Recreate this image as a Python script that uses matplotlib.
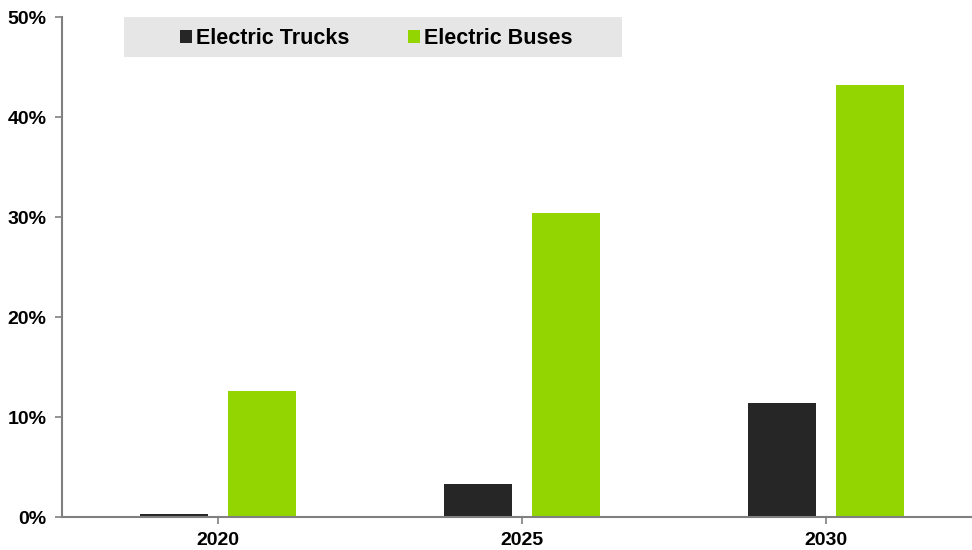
import matplotlib.pyplot as plt
from matplotlib.patches import Rectangle
import numpy as np

years = ['2020', '2025', '2030']
trucks = [0.3, 3.3, 11.4]
buses = [12.6, 30.4, 43.2]
yticks = [0, 10, 20, 30, 40, 50]

plt.rcParams['font.family'] = ['Liberation Sans', 'DejaVu Sans']
plt.rcParams['font.weight'] = 'bold'

fig = plt.figure(figsize=(9.72, 5.5), dpi=100)
ax = fig.add_axes([62/972, 33/550, 910/972, 500/550])

x = np.arange(len(years))
w = 0.224
off = 0.144
ax.bar(x - off, trucks, w, color='#262626', label='Electric Trucks')
ax.bar(x + off, buses, w, color='#93d500', label='Electric Buses')

ax.set_xlim(-0.513, 2.48)
ax.set_ylim(0, 50)
ax.set_xticks(x)
ax.set_xticklabels(years, fontsize=14, fontweight='bold')
ax.set_yticks(yticks)
ax.set_yticklabels([f'{v}%' for v in yticks], fontsize=14, fontweight='bold')

for s in ['top', 'right']:
    ax.spines[s].set_visible(False)
for s in ['left', 'bottom']:
    ax.spines[s].set_color('#808080')
    ax.spines[s].set_linewidth(1.5)
ax.tick_params(axis='both', colors='#808080', labelcolor='black', length=5, width=1.2)
ax.tick_params(axis='x', pad=6)
ax.tick_params(axis='y', pad=6)

# legend background box
fig.patches.append(Rectangle((124/972, 493/550), 498/972, 40/550, transform=fig.transFigure,
                             facecolor='#e6e6e6', edgecolor='none', zorder=0))
fig.legend(loc='center', bbox_to_anchor=(376/972, 511/550), ncol=2, fontsize=15.5,
           frameon=False, handlelength=0.56, handleheight=0.56, handletextpad=0.2,
           columnspacing=2.7, borderaxespad=0, borderpad=0)

fig.savefig('out.png', dpi=100)
